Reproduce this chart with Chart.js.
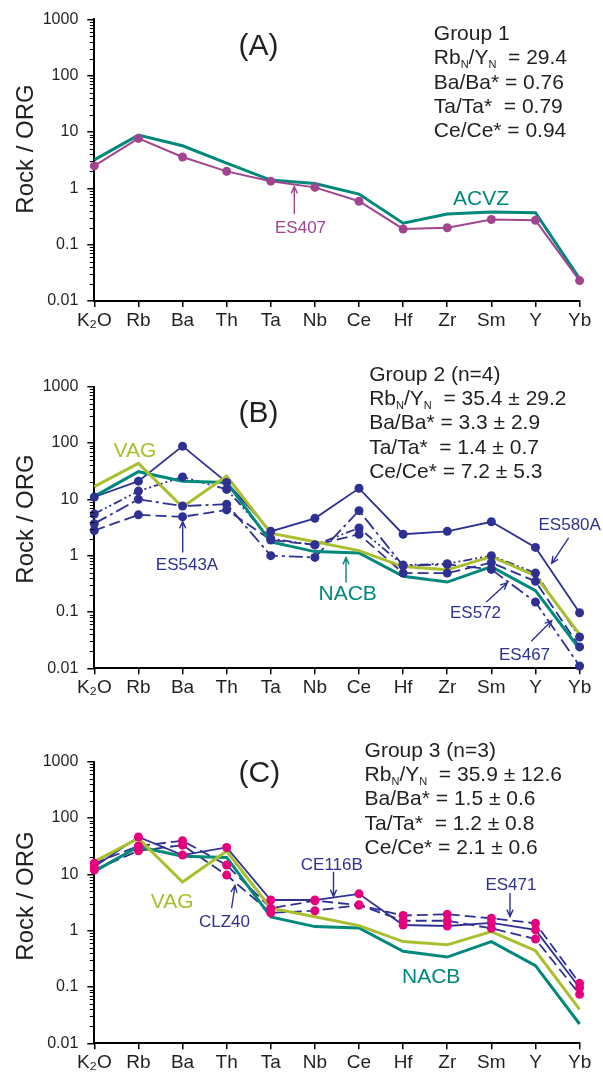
<!DOCTYPE html>
<html><head><meta charset="utf-8">
<script src="https://cdn.jsdelivr.net/npm/chart.js@4.4.1/dist/chart.umd.min.js"></script>
<style>
html,body{margin:0;padding:0;background:#fff;}
body{width:603px;height:1074px;position:relative;overflow:hidden;font-family:"Liberation Sans",Arial,sans-serif;}
.pane{position:absolute;left:0;width:603px;}
.pane canvas{display:block;}
.t{position:absolute;white-space:pre;line-height:1;color:#231f20;}
.t .s{font-size:11px;position:relative;top:4px;}
.rot{position:absolute;white-space:pre;line-height:1;color:#231f20;transform:translate(-50%,-50%) rotate(-90deg);}
</style></head>
<body>
<div class="pane" style="top:0;height:360px"><canvas id="cA" width="603" height="360"></canvas></div>
<div class="pane" style="top:360px;height:350px"><canvas id="cB" width="603" height="350"></canvas></div>
<div class="pane" style="top:710px;height:364px"><canvas id="cC" width="603" height="364"></canvas></div>
<script>
// ---------- data ----------
const categories = ['K₂O','Rb','Ba','Th','Ta','Nb','Ce','Hf','Zr','Sm','Y','Yb'];
const yTickValues = [0.01, 0.1, 1, 10, 100, 1000];
const yTickLabels = ['0.01', '0.1', '1', '10', '100', '1000'];

// Panel A (Group 1)
const ACVZ  = [3.2, 8.8, 5.7, 2.8, 1.4, 1.22, 0.79, 0.24, 0.35, 0.38, 0.37, 0.025];
const ES407 = [2.5, 7.7, 3.6, 2.0, 1.34, 1.04, 0.59, 0.19, 0.20, 0.28, 0.27, 0.023];

// Reference patterns (panels B and C)
const VAG  = [16.8, 43.5, 7.3, 26, 2.5, 1.77, 1.23, 0.64, 0.56, 0.96, 0.44, 0.040];
const NACB = [11.3, 31, 21, 20, 1.75, 1.18, 1.12, 0.43, 0.34, 0.64, 0.24, 0.022];

// Panel B (Group 2)
const ES580A = [11, 21, 88, 20, 2.7, 4.6, 15.7, 2.4, 2.7, 4.0, 1.4, 0.097];
const ES572  = [5.5, 14, 25, 15, 2.0, 1.55, 3.1, 0.68, 0.72, 1.0, 0.49, 0.036];
const ES467  = [3.7, 10, 7.6, 8.2, 1.0, 0.93, 6.3, 0.66, 0.70, 0.57, 0.15, 0.011];
const ES543A = [2.8, 5.3, 4.9, 6.5, 1.9, 1.55, 2.4, 0.49, 0.49, 0.75, 0.35, 0.024];

// Panel C (Group 3)
const CE116B = [13.6, 46, 22, 30, 3.5, 3.5, 4.5, 1.26, 1.21, 1.38, 1.03, 0.097];
const ES471  = [15.7, 31.8, 39.5, 14.6, 2.5, 3.4, 2.85, 1.86, 1.95, 1.66, 1.35, 0.116];
const CLZ40  = [11.9, 26.2, 33, 9.7, 2.08, 2.26, 2.85, 1.5, 1.5, 1.1, 0.71, 0.074];

// ---------- styles ----------
const FONT = '"Liberation Sans", Arial, sans-serif';
const TXT = '#231f20';
const TEAL = '#00897b';
const VAGC = '#aabf30';
const NAVY = '#2e3192';
const PINK = '#e6007e';
const MAG = '#a1458e';

const minorTicks = {
  id: 'minorTicks',
  afterDraw(chart) {
    const y = chart.scales.y, ctx = chart.ctx;
    const x0 = chart.chartArea.left;
    ctx.save(); ctx.strokeStyle = '#000'; ctx.lineWidth = 1;
    for (let e = -2; e < 3; e++) {
      for (let m = 2; m < 10; m++) {
        const py = Math.round(y.getPixelForValue(m * Math.pow(10, e))) + 0.5;
        ctx.beginPath(); ctx.moveTo(x0 - 4.5, py); ctx.lineTo(x0, py); ctx.stroke();
      }
    }
    ctx.restore();
  }
};

function arrowPlugin(list, top) {
  return {
    id: 'arrows',
    afterDraw(chart) {
      const ctx = chart.ctx;
      ctx.save(); ctx.lineWidth = 1.4; ctx.lineCap = 'round';
      list.forEach(a => {
        const x1 = a.from[0], y1 = a.from[1] - top, x2 = a.to[0], y2 = a.to[1] - top;
        const ang = Math.atan2(y2 - y1, x2 - x1), L = 7, w = 0.42;
        ctx.strokeStyle = a.color;
        ctx.beginPath();
        ctx.moveTo(x1, y1); ctx.lineTo(x2, y2);
        ctx.moveTo(x2 - L * Math.cos(ang - w), y2 - L * Math.sin(ang - w));
        ctx.lineTo(x2, y2);
        ctx.lineTo(x2 - L * Math.cos(ang + w), y2 - L * Math.sin(ang + w));
        ctx.stroke();
      });
      ctx.restore();
    }
  };
}

function ds(data, color, width, extra) {
  return Object.assign({
    data, borderColor: color, backgroundColor: color, borderWidth: width,
    pointRadius: 0, pointHoverRadius: 0, tension: 0, fill: false, clip: false
  }, extra || {});
}
function markers(data, color, order) {
  return { data, showLine: false, pointRadius: 4.5, pointBorderWidth: 0,
    pointBackgroundColor: color, borderColor: color, backgroundColor: color, clip: false, order };
}

function makeChart(id, datasets, padTop, padBottom, arrows, top) {
  return new Chart(document.getElementById(id), {
    type: 'line',
    data: { labels: categories, datasets },
    options: {
      responsive: false, animation: false, devicePixelRatio: 1,
      layout: { padding: { top: padTop, bottom: padBottom, left: 0, right: 23.4 } },
      plugins: { legend: { display: false }, tooltip: { enabled: false } },
      scales: {
        x: {
          type: 'category', offset: false,
          afterFit: s => { s.height = 30; },
          grid: { display: true, drawOnChartArea: false, drawTicks: true, tickLength: 6, color: '#000', lineWidth: 1.5 },
          border: { display: true, color: '#000', width: 2 },
          ticks: { font: { family: FONT, size: 19 }, color: TXT, padding: 2, maxRotation: 0, minRotation: 0, autoSkip: false }
        },
        y: {
          type: 'logarithmic', min: 0.01, max: 1000,
          afterFit: s => { s.width = 94.3; },
          afterBuildTicks: s => { s.ticks = yTickValues.map(v => ({ value: v, major: true })); },
          grid: { display: true, drawOnChartArea: false, drawTicks: true, tickLength: 7, color: '#000', lineWidth: 1.5 },
          border: { display: true, color: '#000', width: 2 },
          ticks: { font: { family: FONT, size: 16 }, color: TXT, padding: 9,
            callback: (v, i) => yTickLabels[i] }
        }
      }
    },
    plugins: [minorTicks, arrowPlugin(arrows, top)]
  });
}

// Panel A
makeChart('cA', [
  ds(ACVZ, TEAL, 3, { order: 2 }),
  ds(ES407, MAG, 2, { order: 1, pointRadius: 4.5, pointBorderWidth: 0, pointBackgroundColor: MAG })
], 19.3, 29, [
  { from: [294.3, 213.5], to: [294.3, 186.5], color: MAG }
], 0);

// Panel B
makeChart('cB', [
  ds(ES580A, NAVY, 1.8, { order: 5 }),
  ds(ES572, NAVY, 1.8, { order: 5, borderDash: [9, 3, 2, 3, 2, 3] }),
  ds(ES467, NAVY, 1.8, { order: 5, borderDash: [14, 4, 3, 4] }),
  ds(ES543A, NAVY, 1.8, { order: 5, borderDash: [11, 5] }),
  ds(NACB, TEAL, 3, { order: 3 }),
  ds(VAG, VAGC, 3, { order: 2 }),
  markers(ES580A, NAVY, 1), markers(ES572, NAVY, 1), markers(ES467, NAVY, 1), markers(ES543A, NAVY, 1)
], 26.7, 11.7, [
  { from: [182.7, 552], to: [182.7, 521.5], color: NAVY },
  { from: [346, 582], to: [346, 557.5], color: TEAL },
  { from: [486.7, 601.7], to: [507.3, 582.7], color: NAVY },
  { from: [568.3, 538.3], to: [551.7, 563.3], color: NAVY },
  { from: [531.7, 640.7], to: [551.7, 620.7], color: NAVY }
], 360);

// Panel C
makeChart('cC', [
  ds(CE116B, NAVY, 1.8, { order: 5 }),
  ds(ES471, NAVY, 1.8, { order: 5, borderDash: [11, 5] }),
  ds(CLZ40, NAVY, 1.8, { order: 5, borderDash: [11, 5] }),
  ds(NACB, TEAL, 3, { order: 3 }),
  ds(VAG, VAGC, 3, { order: 2 }),
  markers(CE116B, PINK, 1), markers(ES471, PINK, 1), markers(CLZ40, PINK, 1)
], 51.7, 0.7, [
  { from: [231.7, 907.5], to: [235, 885.5], color: NAVY },
  { from: [333.5, 872.5], to: [333.5, 896.5], color: NAVY },
  { from: [510, 893.5], to: [510, 916.5], color: NAVY }
], 710);

// ---------- text annotations (real DOM text) ----------
const texts = [
  // Panel A
  { h: '(A)', x: 238.5, b: 55.5, fs: 30 },
  { h: 'Group 1', x: 433.8, b: 40, fs: 21 },
  { h: 'Rb<span class="s">N</span>/Y<span class="s">N</span>  = 29.4', x: 433.8, b: 64, fs: 21 },
  { h: 'Ba/Ba* = 0.76', x: 433.8, b: 88.3, fs: 21 },
  { h: 'Ta/Ta*  = 0.79', x: 433.8, b: 112.3, fs: 21 },
  { h: 'Ce/Ce* = 0.94', x: 433.8, b: 136.7, fs: 21 },
  { h: 'ACVZ', x: 453, b: 205, fs: 21, c: TEAL },
  { h: 'ES407', x: 275, b: 233, fs: 17, c: MAG },
  // Panel B
  { h: '(B)', x: 238.5, b: 422, fs: 30 },
  { h: 'Group 2 (n=4)', x: 369.2, b: 380.7, fs: 21 },
  { h: 'Rb<span class="s">N</span>/Y<span class="s">N</span>  = 35.4 ± 29.2', x: 369.2, b: 405, fs: 21 },
  { h: 'Ba/Ba* = 3.3 ± 2.9', x: 369.2, b: 429, fs: 21 },
  { h: 'Ta/Ta*  = 1.4 ± 0.7', x: 369.2, b: 453.3, fs: 21 },
  { h: 'Ce/Ce* = 7.2 ± 5.3', x: 369.2, b: 477.3, fs: 21 },
  { h: 'VAG', x: 113.5, b: 457, fs: 21, c: VAGC },
  { h: 'ES543A', x: 155.8, b: 570, fs: 17, c: NAVY },
  { h: 'NACB', x: 318.5, b: 600, fs: 21, c: TEAL },
  { h: 'ES572', x: 450, b: 618, fs: 17, c: NAVY },
  { h: 'ES580A', x: 538.5, b: 530.5, fs: 17, c: NAVY },
  { h: 'ES467', x: 499, b: 660, fs: 17, c: NAVY },
  // Panel C
  { h: '(C)', x: 238.5, b: 782, fs: 30 },
  { h: 'Group 3 (n=3)', x: 364.6, b: 756.7, fs: 21 },
  { h: 'Rb<span class="s">N</span>/Y<span class="s">N</span>  = 35.9 ± 12.6', x: 364.6, b: 780.7, fs: 21 },
  { h: 'Ba/Ba* = 1.5 ± 0.6', x: 364.6, b: 805, fs: 21 },
  { h: 'Ta/Ta*  = 1.2 ± 0.8', x: 364.6, b: 829.3, fs: 21 },
  { h: 'Ce/Ce* = 2.1 ± 0.6', x: 364.6, b: 853.3, fs: 21 },
  { h: 'VAG', x: 150.8, b: 908, fs: 21, c: VAGC },
  { h: 'CLZ40', x: 199, b: 927, fs: 17, c: NAVY },
  { h: 'CE116B', x: 300.8, b: 870, fs: 17, c: NAVY },
  { h: 'ES471', x: 485.4, b: 890, fs: 17, c: NAVY },
  { h: 'NACB', x: 402, b: 982.7, fs: 21, c: TEAL }
];
texts.forEach(t => {
  const d = document.createElement('div');
  d.className = 't';
  d.innerHTML = t.h;
  d.style.left = t.x + 'px';
  d.style.top = (t.b - 0.8465 * t.fs) + 'px';
  d.style.fontSize = t.fs + 'px';
  if (t.c) d.style.color = t.c;
  document.body.appendChild(d);
});
[149, 519, 896].forEach(cy => {
  const d = document.createElement('div');
  d.className = 'rot';
  d.textContent = 'Rock / ORG';
  d.style.left = '25.4px';
  d.style.top = cy + 'px';
  d.style.fontSize = '24px';
  document.body.appendChild(d);
});
</script>
</body></html>
